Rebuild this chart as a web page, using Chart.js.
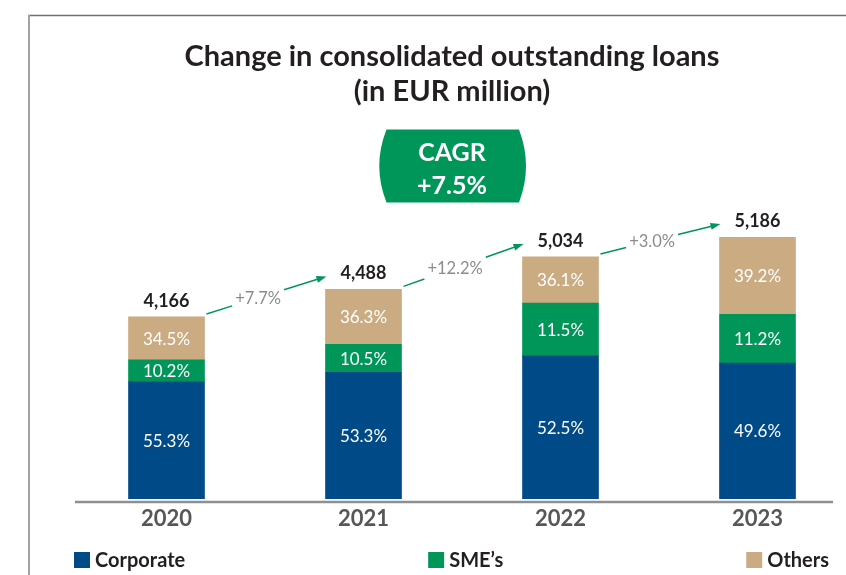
<!DOCTYPE html>
<html>
<head>
<meta charset="utf-8">
<title>Change in consolidated outstanding loans</title>
<script src="https://cdn.jsdelivr.net/npm/chart.js@4.4.1/dist/chart.umd.min.js"></script>
<style>
    html, body { margin: 0; padding: 0; background: #fff; overflow: hidden; }
    canvas { display: block; }
</style>
</head>
<body>
<canvas id="loansChart" width="860" height="575"></canvas>
<script>
// Consolidated outstanding loans (EUR million)

const years = ['2020', '2021', '2022', '2023'];
const totals = [4166, 4488, 5034, 5186];
const growth = ['+7.7%', '+12.2%', '+3.0%'];
const cagr = '+7.5%';

// share of the loan book, % (printed on the bars)
const corporateShare = [55.3, 53.3, 52.5, 49.6];
const smeShare = [10.2, 10.5, 11.5, 11.2];
const othersShare = [34.5, 36.3, 36.1, 39.2];

// the source graphic is not drawn to scale, so segment heights are
// read off the picture separately (2023 bar = 100)
const corporateHeight = [44.7, 48.3, 54.6, 51.9];
const smeHeight = [8.4, 10.7, 20.2, 18.6];
const othersHeight = [16.4, 21.0, 17.6, 29.5];

const FONT = 'Lato, "Noto Sans", sans-serif';
const BLUE = '#004a87';
const GREEN = '#00965a';
const TAN = '#cbab82';
const DARK = '#231f20';

function drawGrowthArrow(ctx, x1, y1, x2, y2, text) {
    ctx.save();
    ctx.font = `16.5px ${FONT}`;
    const tw = ctx.measureText(text).width;
    const dx = x2 - x1, dy = y2 - y1;
    const len = Math.hypot(dx, dy);
    const ux = dx / len, uy = dy / len;
    const mx = x1 + dx * 0.43, my = y1 + dy * 0.43;
    const gap = (tw / 2 + 3) / ux;

    ctx.strokeStyle = GREEN;
    ctx.fillStyle = GREEN;
    ctx.lineWidth = 1.5;
    ctx.beginPath();
    ctx.moveTo(x1, y1);
    ctx.lineTo(mx - ux * gap, my - uy * gap);
    ctx.moveTo(mx + ux * gap, my + uy * gap);
    ctx.lineTo(x2 - ux * 7, y2 - uy * 7);
    ctx.stroke();

    // arrow head
    ctx.beginPath();
    ctx.moveTo(x2, y2);
    ctx.lineTo(x2 - ux * 10 - uy * 3.5, y2 - uy * 10 + ux * 3.5);
    ctx.lineTo(x2 - ux * 10 + uy * 3.5, y2 - uy * 10 - ux * 3.5);
    ctx.closePath();
    ctx.fill();

    ctx.fillStyle = '#8c8c8c';
    ctx.textAlign = 'center';
    ctx.textBaseline = 'middle';
    ctx.fillText(text, mx, my + 1);
    ctx.restore();
}

const decorations = {
    id: 'decorations',
    afterDatasetsDraw(chart) {
        const ctx = chart.ctx;
        const metas = chart.data.datasets.map((ds, i) => chart.getDatasetMeta(i));

        // percentages inside the segments
        ctx.save();
        ctx.font = `17px ${FONT}`;
        ctx.fillStyle = '#fff';
        ctx.textAlign = 'center';
        ctx.textBaseline = 'middle';
        chart.data.datasets.forEach((ds, i) => {
            metas[i].data.forEach((bar, j) => {
                ctx.fillText(ds.shares[j].toFixed(1) + '%', bar.x, (bar.y + bar.base) / 2 + 1);
            });
        });

        // totals on top
        const topBars = metas[metas.length - 1].data;
        ctx.font = `bold 18px ${FONT}`;
        ctx.fillStyle = DARK;
        topBars.forEach((bar, j) => {
            ctx.fillText(totals[j].toLocaleString('en-US'), bar.x, bar.y - 16);
        });
        ctx.restore();

        // growth arrows between bars
        for (let j = 0; j < growth.length; j++) {
            const a = topBars[j], b = topBars[j + 1];
            drawGrowthArrow(ctx,
                a.x + a.width / 2 + 2, a.y - 3,
                b.x - b.width / 2 + 1, b.y - 13,
                growth[j]);
        }
    },
    afterDraw(chart) {
        const ctx = chart.ctx;
        const area = chart.chartArea;
        const cx = 452;
        ctx.save();

        // frame
        ctx.strokeStyle = '#6f6f6f';
        ctx.lineWidth = 1.5;
        ctx.beginPath();
        ctx.moveTo(28, 15.5);
        ctx.lineTo(chart.width, 15.5);
        ctx.stroke();
        ctx.strokeStyle = '#a3a3a3';
        ctx.lineWidth = 2;
        ctx.beginPath();
        ctx.moveTo(29, 15);
        ctx.lineTo(29, chart.height);
        ctx.stroke();

        // title
        ctx.fillStyle = DARK;
        ctx.textAlign = 'center';
        ctx.textBaseline = 'middle';
        ctx.font = `bold 29px ${FONT}`;
        ctx.fillText('Change in consolidated outstanding loans', cx, 57);
        ctx.fillText('(in EUR million)', cx, 92);

        // CAGR badge
        ctx.fillStyle = GREEN;
        ctx.beginPath();
        ctx.moveTo(386.5, 129.5);
        ctx.lineTo(519, 129.5);
        ctx.quadraticCurveTo(533, 166, 519, 202.5);
        ctx.lineTo(386.5, 202.5);
        ctx.quadraticCurveTo(372, 166, 386.5, 129.5);
        ctx.fill();
        ctx.fillStyle = '#fff';
        ctx.font = `bold 25px ${FONT}`;
        ctx.fillText('CAGR', cx, 153);
        ctx.fillText(cagr, cx, 186);

        // x axis line (ends short of the plot edge, as in the source)
        ctx.strokeStyle = '#8f8f8f';
        ctx.lineWidth = 2.5;
        ctx.beginPath();
        ctx.moveTo(75, area.bottom + 3);
        ctx.lineTo(833, area.bottom + 3);
        ctx.stroke();

        // legend, spread across the width
        ctx.font = `bold 20px ${FONT}`;
        ctx.textAlign = 'left';
        const items = chart.data.datasets.map(ds => ({
            label: ds.label,
            color: ds.backgroundColor,
            w: 16 + 5 + ctx.measureText(ds.label).width
        }));
        const x0 = 74, x1 = 829;
        const used = items.reduce((s, it) => s + it.w, 0);
        const space = (x1 - x0 - used) / (items.length - 1);
        let x = x0;
        items.forEach(it => {
            ctx.fillStyle = it.color;
            ctx.fillRect(x, 552, 16, 16);
            ctx.fillStyle = DARK;
            ctx.fillText(it.label, x + 21, 561);
            x += it.w + space;
        });
        ctx.restore();
    }
};

new Chart(document.getElementById('loansChart'), {
    type: 'bar',
    data: {
        labels: years,
        datasets: [
            { label: 'Corporate', data: corporateHeight, shares: corporateShare, backgroundColor: BLUE },
            { label: 'SME\u2019s', data: smeHeight, shares: smeShare, backgroundColor: GREEN },
            { label: 'Others', data: othersHeight, shares: othersShare, backgroundColor: TAN }
        ]
    },
    options: {
        responsive: false,
        animation: false,
        barThickness: 76,
        borderWidth: 0,
        layout: {
            padding: { top: 237, bottom: 36, left: 68, right: 4 }
        },
        plugins: {
            legend: { display: false },
            title: { display: false },
            tooltip: { enabled: false }
        },
        scales: {
            x: {
                stacked: true,
                grid: { display: false, drawTicks: false },
                border: { display: false },
                ticks: {
                    maxRotation: 0,
                    padding: 6.8,
                    color: '#575757',
                    font: { family: FONT, size: 22, weight: 'bold' }
                }
            },
            y: {
                display: false,
                stacked: true,
                min: 0,
                max: 100
            }
        }
    },
    plugins: [decorations]
});
</script>
</body>
</html>
